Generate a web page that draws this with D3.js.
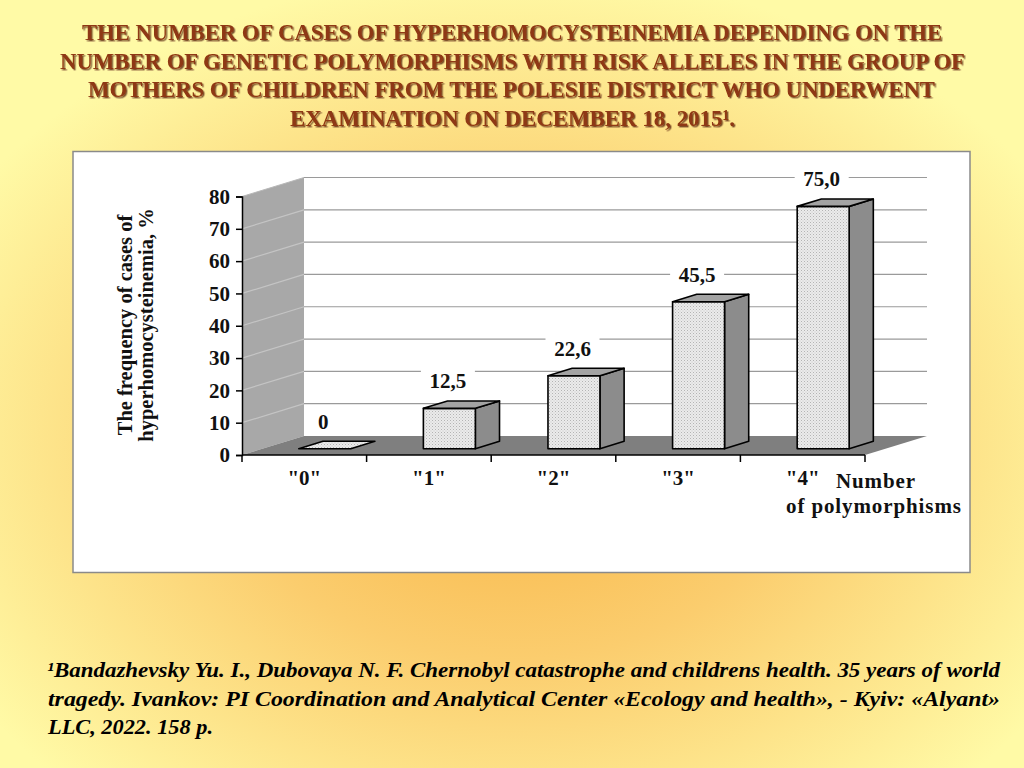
<!DOCTYPE html>
<html>
<head>
<meta charset="utf-8">
<script src="https://cdn.jsdelivr.net/npm/d3@7"></script>
<style>
  html, body { margin: 0; padding: 0; background: #fdf3a0; }
  svg { display: block; }
</style>
</head>
<body>
<svg id="chart" width="1024" height="768"></svg>
<script>
// data
var categories = ['"0"', '"1"', '"2"', '"3"', '"4"'];
var values = [0, 12.5, 22.6, 45.5, 75.0];
var valueLabels = ["0", "12,5", "22,6", "45,5", "75,0"];
var yTicks = [0, 10, 20, 30, 40, 50, 60, 70, 80];

var titleLines = [
  "THE NUMBER OF CASES OF HYPERHOMOCYSTEINEMIA DEPENDING ON THE",
  "NUMBER OF GENETIC POLYMORPHISMS WITH RISK ALLELES IN THE GROUP OF",
  "MOTHERS OF CHILDREN FROM THE POLESIE DISTRICT WHO UNDERWENT",
  "EXAMINATION ON DECEMBER 18, 2015¹."
];
var footLines = [
  "¹Bandazhevsky Yu. I., Dubovaya N. F. Chernobyl catastrophe and childrens health. 35 years of world",
  "tragedy. Ivankov: PI Coordination and Analytical Center «Ecology and health», - Kyiv: «Alyant»",
  "LLC, 2022. 158 p."
];

var svg = d3.select("#chart");
var serif = "'Liberation Serif', 'Times New Roman', serif";

// background gradient
var defs = svg.append("defs");
var grad = defs.append("radialGradient").attr("id", "bg")
  .attr("cx", 0.5).attr("cy", 0.58).attr("r", 0.62);
grad.append("stop").attr("offset", "0%").attr("stop-color", "#f8b444");
grad.append("stop").attr("offset", "45%").attr("stop-color", "#fbcd6e");
grad.append("stop").attr("offset", "100%").attr("stop-color", "#fffaa6");

var pat = defs.append("pattern").attr("id", "stip")
  .attr("width", 3).attr("height", 3).attr("patternUnits", "userSpaceOnUse");
pat.append("rect").attr("width", 3).attr("height", 3).attr("fill", "#ebebeb");
pat.append("rect").attr("x", 0).attr("y", 0).attr("width", 1).attr("height", 1).attr("fill", "#b4b4b4");
pat.append("rect").attr("x", 1.5).attr("y", 1.5).attr("width", 1).attr("height", 1).attr("fill", "#c8c8c8");

// shadow under the title letters
defs.append("filter").attr("id", "shadow")
  .attr("x", "-5%").attr("y", "-20%").attr("width", "110%").attr("height", "140%")
  .append("feDropShadow").attr("dx", 1.4).attr("dy", 1.4).attr("stdDeviation", 0.4)
  .attr("flood-color", "#4a1602").attr("flood-opacity", 0.7);

svg.append("rect").attr("width", 1024).attr("height", 768).attr("fill", "url(#bg)");

// title
var titleX = [[82, 860], [60, 905], [88, 847], [290, 445]];
var titleG = svg.append("g").attr("filter", "url(#shadow)")
  .attr("font-family", serif).attr("font-weight", "bold").attr("fill", "#8e3712");
titleLines.forEach(function(t, i){
  titleG.append("text")
    .attr("x", titleX[i][0]).attr("y", 40 + i * 28.5)
    .attr("textLength", titleX[i][1]).attr("lengthAdjust", "spacingAndGlyphs")
    .attr("font-size", 23.5)
    .text(t);
});

// chart panel
svg.append("rect").attr("x", 73).attr("y", 151.5).attr("width", 897).attr("height", 421)
  .attr("fill", "#ffffff").attr("stroke", "#8a8a8a").attr("stroke-width", 1.5);

var DX = 62, DY = -19;
var barT0 = 0.33, barT1 = 0.72, barFrac = 0.417;

var x = d3.scaleBand().domain(categories).range([242, 865]);
var y = d3.scaleLinear().domain([0, 80]).range([455, 196.5]);

function P(px, py, t){ return [px + t * DX, py + t * DY]; }
var line = d3.line();

var xL = x.range()[0], xR = x.range()[1];

// left wall
svg.append("path")
  .attr("d", line([P(xL, y(80), 0), P(xL, y(80), 1), P(xL, y(0), 1), P(xL, y(0), 0)]) + "Z")
  .attr("fill", "#a8a8a8");

// gridlines on back wall and left wall
svg.append("g").selectAll("line").data(yTicks.filter(function(v){ return v > 0; }))
  .join("line")
  .attr("x1", xL + DX).attr("x2", xR + DX)
  .attr("y1", function(v){ return y(v) + DY; }).attr("y2", function(v){ return y(v) + DY; })
  .attr("stroke", "#9a9a9a").attr("stroke-width", 1.2);
svg.append("g").selectAll("line").data(yTicks.filter(function(v){ return v > 0 && v < 80; }))
  .join("line")
  .attr("x1", xL).attr("x2", xL + DX)
  .attr("y1", function(v){ return y(v); }).attr("y2", function(v){ return y(v) + DY; })
  .attr("stroke", "#c4c4c4").attr("stroke-width", 1.2);
svg.append("line").attr("x1", xL).attr("y1", y(80)).attr("x2", xL + DX).attr("y2", y(80) + DY)
  .attr("stroke", "#b8b8b8").attr("stroke-width", 1);

// floor
svg.append("path")
  .attr("d", line([P(xL, y(0), 0), P(xL, y(0), 1), P(xR, y(0), 1), P(xR, y(0), 0)]) + "Z")
  .attr("fill", "#7f7f7f");

// y axis
var yAxis = svg.append("g").attr("transform", "translate(" + xL + ",0)")
  .call(d3.axisLeft(y).tickValues(yTicks).tickSize(6).tickPadding(6).tickFormat(d3.format("d")));
yAxis.select(".domain").attr("stroke", "#000").attr("stroke-width", 1.5);
yAxis.selectAll(".tick line").attr("stroke", "#000").attr("stroke-width", 1.5);
yAxis.selectAll(".tick text").attr("font-family", serif).attr("font-weight", "bold")
  .attr("font-size", 21).attr("fill", "#111");

// x axis: ticks at category boundaries, labels at centres
svg.append("line").attr("x1", xL).attr("x2", xR).attr("y1", y(0)).attr("y2", y(0))
  .attr("stroke", "#000").attr("stroke-width", 1.5);
var bounds = categories.map(function(c){ return x(c); }).concat([xR]);
svg.append("g").selectAll("line").data(bounds).join("line")
  .attr("x1", function(d){ return d; }).attr("x2", function(d){ return d; })
  .attr("y1", y(0)).attr("y2", y(0) + 7)
  .attr("stroke", "#000").attr("stroke-width", 1.5);
svg.append("g").selectAll("text").data(categories).join("text")
  .attr("x", function(c){ return x(c) + x.bandwidth() / 2; }).attr("y", 485)
  .attr("text-anchor", "middle")
  .attr("font-family", serif).attr("font-weight", "bold").attr("font-size", 21).attr("fill", "#111")
  .text(function(c){ return c; });
svg.append("text").attr("x", 836).attr("y", 488)
  .attr("font-family", serif).attr("font-weight", "bold").attr("font-size", 21).attr("fill", "#111")
  .attr("textLength", 79).text("Number");
svg.append("text").attr("x", 786).attr("y", 513)
  .attr("font-family", serif).attr("font-weight", "bold").attr("font-size", 21).attr("fill", "#111")
  .attr("textLength", 175).text("of polymorphisms");

// y title
var yTitle = ["The frequency of cases of", "hyperhomocysteinemia, %"];
yTitle.forEach(function(t, i){
  svg.append("text")
    .attr("transform", "translate(" + (132 + i * 21) + ",325) rotate(-90)")
    .attr("text-anchor", "middle")
    .attr("font-family", serif).attr("font-weight", "bold").attr("font-size", 20.5).attr("fill", "#111")
    .text(t);
});

// bars
var bars = svg.append("g").selectAll("g").data(values).join("g");
bars.each(function(v, i){
  var g = d3.select(this);
  var cx = x(categories[i]) + x.bandwidth() / 2;
  var w = x.step() * barFrac;
  var l = cx - w / 2, r = cx + w / 2;
  var front = [P(l, y(v), barT0), P(r, y(v), barT0), P(r, y(0), barT0), P(l, y(0), barT0)];
  var side = [P(r, y(v), barT0), P(r, y(v), barT1), P(r, y(0), barT1), P(r, y(0), barT0)];
  var top = [P(l, y(v), barT0), P(l, y(v), barT1), P(r, y(v), barT1), P(r, y(v), barT0)];
  if (v > 0) {
    g.append("path").attr("d", line(side) + "Z").attr("fill", "#8c8c8c")
      .attr("stroke", "#000").attr("stroke-width", 1.6).attr("stroke-linejoin", "round");
    g.append("path").attr("d", line(front) + "Z").attr("fill", "url(#stip)")
      .attr("stroke", "#000").attr("stroke-width", 1.6).attr("stroke-linejoin", "round");
  }
  g.append("path").attr("d", line(top) + "Z").attr("fill", v > 0 ? "#a3a3a3" : "url(#stip)")
    .attr("stroke", "#000").attr("stroke-width", 1.6).attr("stroke-linejoin", "round");

  // value label with white backing
  var lx = cx + 19, ly = y(v) + barT1 * DY - 20;
  var bw = valueLabels[i].length * 10.5 + 12;
  g.append("rect").attr("x", lx - bw / 2).attr("y", ly - 12).attr("width", bw).attr("height", 24)
    .attr("fill", "#ffffff");
  g.append("text").attr("x", lx).attr("y", ly + 7.5)
    .attr("text-anchor", "middle")
    .attr("font-family", serif).attr("font-weight", "bold").attr("font-size", 21).attr("fill", "#111")
    .text(valueLabels[i]);
});

// footnote
var footX = [[47, 953], [48, 952], [48, 165]];
footLines.forEach(function(t, i){
  svg.append("text").attr("x", footX[i][0]).attr("y", 677 + i * 28.5)
    .attr("textLength", footX[i][1]).attr("lengthAdjust", "spacingAndGlyphs")
    .attr("font-family", serif).attr("font-weight", "bold").attr("font-style", "italic")
    .attr("font-size", 20.5).attr("fill", "#000")
    .text(t);
});
</script>
</body>
</html>
